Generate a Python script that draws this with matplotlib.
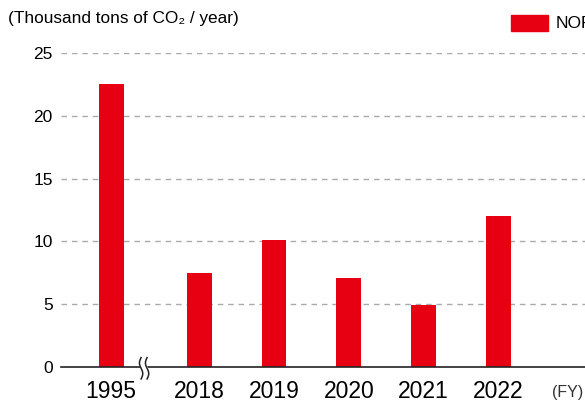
import numpy as np
import matplotlib.pyplot as plt

plt.rcParams['font.family'] = ['Liberation Sans', 'DejaVu Sans']

# emissions, thousand tons of CO2 per year
years = ['1995', '2018', '2019', '2020', '2021', '2022']
values = [22.5, 7.5, 10.1, 7.1, 4.9, 12.0]
yticks = [0, 5, 10, 15, 20, 25]
legend_label = 'NOF'

red = '#e60012'

# x positions: axis break between 1995 and 2018
xpos = np.array([0.0, 1.175, 2.175, 3.175, 4.175, 5.175])
xbreak = 0.44

fig = plt.figure(figsize=(5.85, 4.01), dpi=100)
ax = fig.add_axes([61/585, 1-367/401, 1-61/585, (367-53)/401])

ax.bar(xpos, values, width=0.333, color=red, zorder=3)

ax.set_xlim(-0.67, 6.33)
ax.set_ylim(0, 25)
ax.set_yticks(yticks)
ax.set_yticklabels([str(t) for t in yticks], fontsize=12.5)
ax.set_xticks(xpos)
ax.set_xticklabels(years, fontsize=16.5)
ax.tick_params(axis='both', length=0)
ax.tick_params(axis='y', pad=6)
ax.tick_params(axis='x', pad=9)

for t in yticks[1:]:
    ax.axhline(t, color='#aaaaaa', lw=1, ls=(0, (4, 3.5)), zorder=1)

for s in ['top', 'right', 'left']:
    ax.spines[s].set_visible(False)
ax.spines['bottom'].set_color('#222222')
ax.spines['bottom'].set_linewidth(1.2)
ax.spines['bottom'].set_zorder(4)

# break mark on the baseline
yy = np.linspace(-0.95, 0.75, 40)
wave = 0.022 * np.sin((yy + 0.95) / 1.7 * 2 * np.pi)
ax.fill_betweenx(yy, xbreak - 0.04 + wave, xbreak + 0.04 + wave, color='white',
                 zorder=5, clip_on=False)
ax.plot(xbreak - 0.04 + wave, yy, color='#222222', lw=1.1, zorder=6, clip_on=False)
ax.plot(xbreak + 0.04 + wave, yy, color='#222222', lw=1.1, zorder=6, clip_on=False)

fig.text(8/585, 1-19/401, '(Thousand tons of CO\u2082 / year)', fontsize=12.4,
         va='center', ha='left')
fig.text(552/585, 1-393/401, '(FY)', fontsize=11.5, va='center', ha='left',
         color='#333333')

# legend
fig.patches.append(plt.Rectangle((511/585, 1-30.5/401), 37/585, 15.5/401,
                                 transform=fig.transFigure, color=red))
fig.text(556/585, 1-23/401, legend_label, fontsize=12.5, va='center', ha='left')

fig.savefig('out.png', dpi=100)
